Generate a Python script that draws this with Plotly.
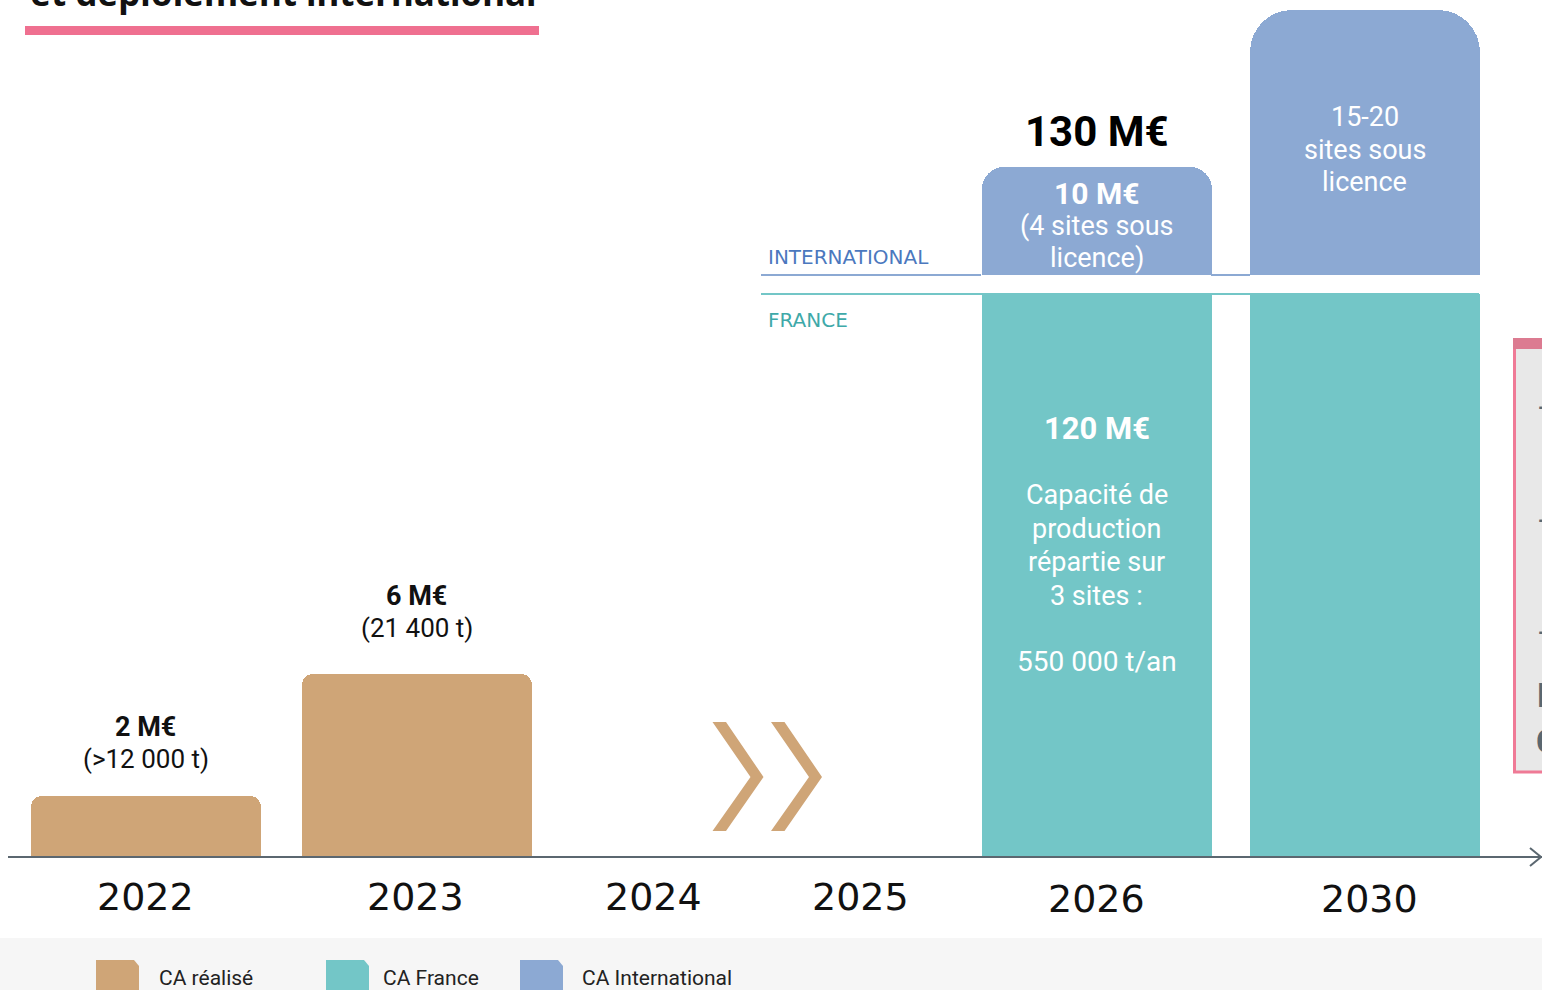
import plotly.graph_objects as go

# ---------------- data ----------------
YEARS = ["2022", "2023", "2024", "2025", "2026", "2030"]
REALISED_YEARS = ["2022", "2023"]
REALISED_MEUR = [2, 6]
REALISED_TONNES = ["(>12 000 t)", "(21 400 t)"]
PROJ_YEARS = ["2026", "2030"]
FRANCE_MEUR = [120, None]
INTL_MEUR = [10, None]
TOTAL_2026_MEUR = 130
INTL_TEXT_2026 = ["(4 sites sous", "licence)"]
INTL_SITES_2030 = ["15-20", "sites sous", "licence"]
FRANCE_TEXT_2026 = ["Capacité de", "production", "répartie sur", "3 sites :"]
FRANCE_CAPACITY = "550 000 t/an"
LEGEND_LABELS = ["CA réalisé", "CA France", "CA International"]
TITLE = "et déploiement international"

# ---------------- layout constants ----------------
W, H = 1542, 990
BASE_PX = 857          # pixel row of the time axis
PX_PER_MEUR = 30.5     # vertical scale for realised bars


def yv(py):
    """pixel row -> y axis value (M€ display units)"""
    return (BASE_PX - py) / PX_PER_MEUR


XC = {"2022": 145.5, "2023": 416.5, "2024": 653.5, "2025": 860,
      "2026": 1096.5, "2030": 1364.5}
LABEL_X = {"2022": 145, "2023": 415, "2024": 653.5, "2025": 860,
           "2026": 1096, "2030": 1369}
BAR_W = 230

# broken-axis display levels for the projected bars
FRANCE_TOP = yv(294)
INTL_BASE = yv(275)
INTL_TOP = {"2026": yv(167), "2030": yv(10)}
INTL_RADIUS = {"2026": 22, "2030": 42}
INTL_SQUARE_TOP = {"2026": yv(215), "2030": yv(100)}

TAN = "#CFA577"
TEAL = "#73C6C7"
BLUE = "#8CA9D3"
AXIS = "#5B6770"
FONT = "Roboto"

fig = go.Figure()

# realised bars
fig.add_trace(go.Bar(
    x=[XC[y] for y in REALISED_YEARS], y=REALISED_MEUR, width=BAR_W,
    marker=dict(color=TAN, cornerradius=11, line=dict(width=0)),
    hovertext=[f"{y}: {v} M€" for y, v in zip(REALISED_YEARS, REALISED_MEUR)],
    hoverinfo="text", showlegend=False))

# France bars (truncated display)
fig.add_trace(go.Bar(
    x=[XC[y] for y in PROJ_YEARS], y=[FRANCE_TOP] * len(PROJ_YEARS), width=BAR_W,
    marker=dict(color=TEAL, line=dict(width=0)),
    hovertext=[f"{y}: CA France {v} M€" if v else f"{y}: CA France"
               for y, v in zip(PROJ_YEARS, FRANCE_MEUR)],
    hoverinfo="text", showlegend=False))

# International bars (separate panel): rounded top + square lower part
for yr, v in zip(PROJ_YEARS, INTL_MEUR):
    ht = [f"{yr}: CA International {v} M€" if v else f"{yr}: CA International"]
    fig.add_trace(go.Bar(
        x=[XC[yr]], y=[INTL_TOP[yr] - INTL_BASE], base=[INTL_BASE], width=BAR_W,
        marker=dict(color=BLUE, cornerradius=INTL_RADIUS[yr], line=dict(width=0)),
        hovertext=ht, hoverinfo="text", showlegend=False))
    fig.add_trace(go.Bar(
        x=[XC[yr]], y=[INTL_SQUARE_TOP[yr] - INTL_BASE], base=[INTL_BASE], width=BAR_W,
        marker=dict(color=BLUE, line=dict(width=0)),
        hovertext=ht, hoverinfo="text", showlegend=False))

shapes = []
ann = []


def txt(x, py, text, size, color="#111111", bold=False, family=FONT,
        xanchor="center", yanchor="middle", weight=None):
    if bold:
        text = f"<b>{text}</b>"
    f = dict(size=size, color=color, family=family)
    if weight:
        f["weight"] = weight
    ann.append(dict(x=x, y=yv(py), xref="x", yref="y", text=text, showarrow=False,
                    xanchor=xanchor, yanchor=yanchor, font=f))


def path(points, color):
    d = "M " + " L ".join(f"{x},{yv(p)}" for x, p in points) + " Z"
    shapes.append(dict(type="path", path=d, xref="x", yref="y",
                       fillcolor=color, line=dict(width=0)))


def hline(x0, x1, py, color, width=2):
    shapes.append(dict(type="line", x0=x0, x1=x1, y0=yv(py), y1=yv(py),
                       xref="x", yref="y", line=dict(color=color, width=width)))


# title (cut off at the top edge) and pink underline
txt(28, 18, TITLE, 35, color="#111111", bold=True, family="Noto Sans",
    xanchor="left", yanchor="bottom")
shapes.append(dict(type="rect", x0=25, x1=539, y0=yv(26), y1=yv(35), xref="x", yref="y",
                   fillcolor="#EF7090", line=dict(width=0)))

# panel lines
hline(761, 981, 275, BLUE)
hline(1211, 1250, 275, BLUE)
hline(761, 1479, 294, TEAL)
txt(766, 257, "INTERNATIONAL", 20, color="#4B78BE", family="DejaVu Sans", xanchor="left")
txt(766, 320, "FRANCE", 20, color="#3EA9A9", family="DejaVu Sans", xanchor="left")

# chevrons
for dx in (0, 58.5):
    path([(712.5 + dx, 722), (726 + dx, 722), (763.5 + dx, 777), (726 + dx, 831),
          (712.5 + dx, 831), (750.5 + dx, 777)], TAN)

# time axis + arrow
hline(8, 1542, 857, AXIS, 2)
shapes.append(dict(type="path", xref="x", yref="y",
                   path=f"M 1530,{yv(848)} L 1541,{yv(857)} L 1530,{yv(866)}",
                   line=dict(color=AXIS, width=2)))

# year labels
for yr in YEARS:
    py = 899 if yr in ("2026", "2030") else 897
    txt(LABEL_X[yr], py, yr, 38, color="#111111", family="DejaVu Sans")

# realised labels
val_py = {"2022": 727, "2023": 596}
for yr, v, t in zip(REALISED_YEARS, REALISED_MEUR, REALISED_TONNES):
    txt(XC[yr], val_py[yr], f"{v} M€", 27, bold=True)
    txt(XC[yr], val_py[yr] + 31.5, t, 26)

# 2026 total
txt(XC["2026"], 131, f"{TOTAL_2026_MEUR} M€", 42, color="#000000", bold=True, weight=900)

# international 2026
txt(XC["2026"], 193, f"{INTL_MEUR[0]} M€", 30, color="white", bold=True)
for i, line in enumerate(INTL_TEXT_2026):
    txt(XC["2026"], 226 + i * 32, line, 27, color="white")

# international 2030
for i, line in enumerate(INTL_SITES_2030):
    txt(XC["2030"], 117 + i * 32.5, line, 27, color="white")

# France 2026
txt(XC["2026"], 428, f"{FRANCE_MEUR[0]} M€", 31, color="white", bold=True)
for i, line in enumerate(FRANCE_TEXT_2026):
    txt(XC["2026"], 495 + i * 33.7, line, 27, color="white")
txt(XC["2026"], 661, FRANCE_CAPACITY, 28, color="white")

# right side box (cut off)
shapes.append(dict(type="rect", x0=1514.5, x1=1600, y0=yv(339.5), y1=yv(772),
                   xref="x", yref="y", fillcolor="#E8E8E8",
                   line=dict(color="#EF7A96", width=3)))
shapes.append(dict(type="rect", x0=1513, x1=1600, y0=yv(338), y1=yv(349),
                   xref="x", yref="y", fillcolor="#DC7B91", line=dict(width=0)))
for py in (407, 520, 632):
    txt(1536, py, "-", 22, color="#5B6770", bold=True, xanchor="left")
txt(1535, 695, "E", 34, color="#5B6770", bold=True, xanchor="left")
txt(1534, 741, "C", 34, color="#5B6770", bold=True, xanchor="left")

# legend band
shapes.append(dict(type="rect", x0=0, x1=W, y0=yv(938), y1=yv(H + 5), xref="x", yref="y",
                   fillcolor="#F6F6F6", line=dict(width=0), layer="below"))
sw = [(96, TAN), (326, TEAL), (520, BLUE)]
lab_x = [157, 381, 580]
for (x0, c), lx, lab in zip(sw, lab_x, LEGEND_LABELS):
    path([(x0, 960), (x0 + 38, 960), (x0 + 43, 966), (x0 + 43, 995), (x0, 995)], c)
    txt(lx, 978, lab, 21, color="#222222", xanchor="left")

fig.update_layout(
    width=W, height=H, autosize=False,
    margin=dict(l=0, r=0, t=0, b=0),
    paper_bgcolor="white", plot_bgcolor="white",
    barmode="overlay", bargap=0,
    xaxis=dict(range=[0, W], visible=False, fixedrange=True),
    yaxis=dict(range=[yv(H), yv(0)], visible=False, fixedrange=True),
    shapes=shapes, annotations=ann, showlegend=False,
)

fig.write_html("out.html", config={"displayModeBar": False},
               post_script="document.body.style.margin='0';document.body.style.overflow='hidden';")
